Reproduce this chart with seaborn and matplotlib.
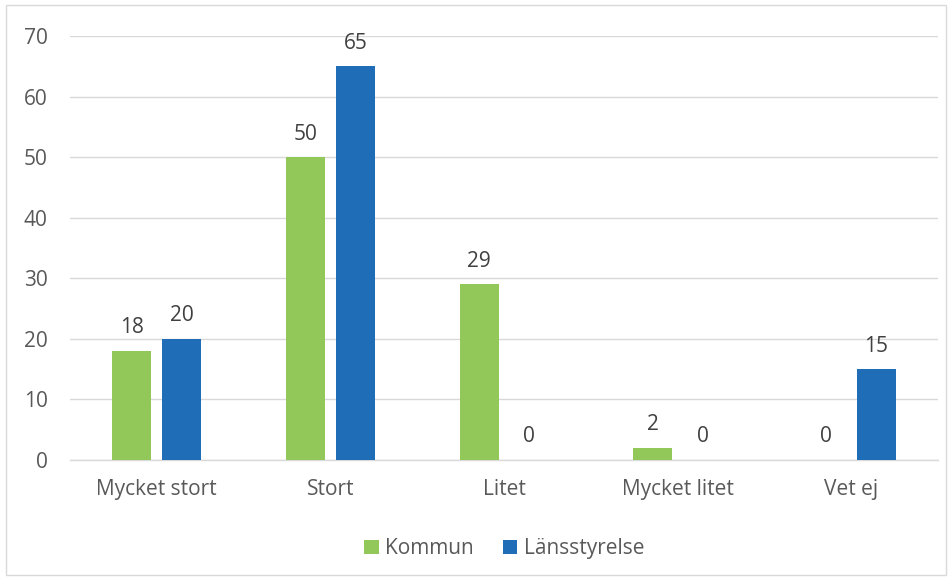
import matplotlib
matplotlib.use("Agg")
import matplotlib.pyplot as plt
import seaborn as sns
import pandas as pd
from matplotlib.patches import Rectangle

categories = ["Mycket stort", "Stort", "Litet", "Mycket litet", "Vet ej"]
kommun = [18, 50, 29, 2, 0]
lansstyrelse = [20, 65, 0, 0, 15]
series_names = ["Kommun", "Länsstyrelse"]
y_ticks = [0, 10, 20, 30, 40, 50, 60, 70]

df = pd.DataFrame({
    "Kategori": categories * 2,
    "Värde": kommun + lansstyrelse,
    "Serie": [series_names[0]] * len(categories) + [series_names[1]] * len(categories),
})

sns.set_theme(style="white")
plt.rcParams["font.family"] = ["Open Sans", "DejaVu Sans"]

fs = 15

fig = plt.figure(figsize=(9.53, 5.79), dpi=100)
ax = fig.add_axes([70 / 953, 119 / 579, 868 / 953, 424 / 579])

palette = {"Kommun": "#92C75A", "Länsstyrelse": "#1E6DB6"}
sns.barplot(data=df, x="Kategori", y="Värde", hue="Serie", palette=palette,
            width=0.576, gap=0.22, ax=ax, saturation=1, legend=True, zorder=3,
            linewidth=0)

ax.set_ylim(0, 70)
ax.set_xlim(-0.5, 4.5)
ax.set_yticks(y_ticks)
ax.yaxis.grid(True, color="#D9D9D9", linewidth=1, zorder=0)
ax.set_axisbelow(True)
for s in ["top", "right", "left"]:
    ax.spines[s].set_visible(False)
ax.spines["bottom"].set_color("#D9D9D9")
ax.spines["bottom"].set_linewidth(1)
ax.tick_params(axis="both", length=0, labelsize=fs, colors="#595959")
ax.tick_params(axis="y", pad=16)
ax.tick_params(axis="x", pad=14)
ax.set_xlabel("")
ax.set_ylabel("")

for cont in ax.containers:
    ax.bar_label(cont, fmt="%d", padding=9, fontsize=fs, color="#404040")

leg = ax.legend(loc="upper center", bbox_to_anchor=(0.5, -0.14), ncol=2, frameon=False,
                fontsize=fs, handlelength=0.7, handleheight=0.7, handletextpad=0.3,
                columnspacing=1.4)
for t in leg.get_texts():
    t.set_color("#595959")

fig.patches.append(Rectangle((6 / 953, 4 / 579), 940 / 953, 570 / 579, transform=fig.transFigure,
                             fill=False, edgecolor="#D9D9D9", linewidth=1))

fig.savefig("out.png", dpi=100)
